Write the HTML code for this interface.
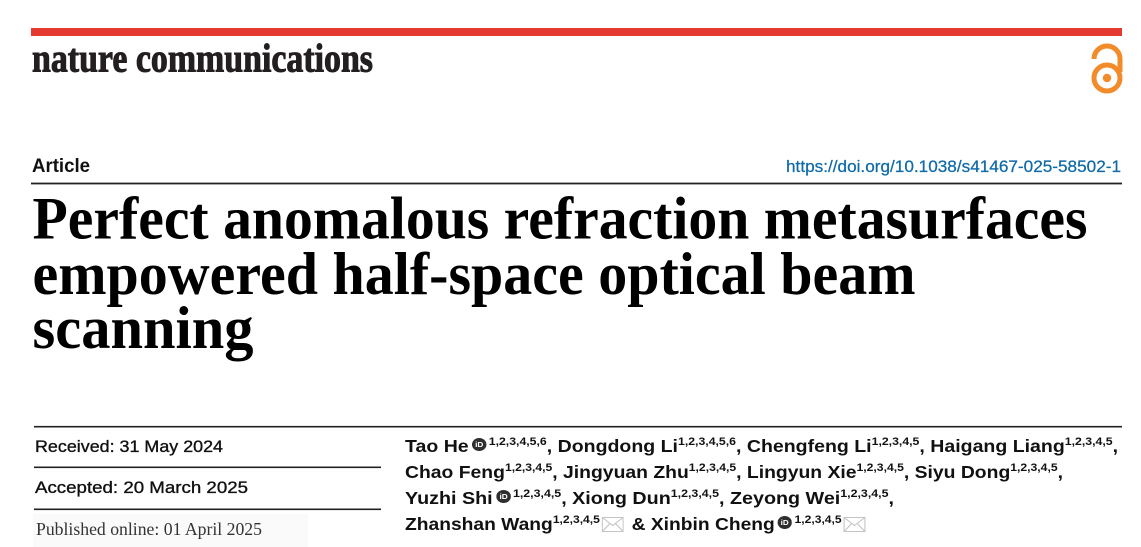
<!DOCTYPE html>
<html>
<head>
<meta charset="utf-8">
<style>
  html,body{margin:0;padding:0;background:#fff;}
  body{width:1141px;height:547px;overflow:hidden;position:relative;}
  svg.page{position:absolute;left:0;top:0;}
  .au{position:absolute;left:405px;white-space:nowrap;font-family:"Liberation Sans",Arial,sans-serif;font-weight:bold;font-size:17.5px;line-height:20px;color:#111;}
  .au .in{display:inline-block;transform-origin:0 50%;}
  .au sup{font-size:11px;position:relative;top:-7px;vertical-align:baseline;line-height:0;font-weight:bold;}
  .orc{vertical-align:1px;margin:0 2px 0 3px;}
  .env{vertical-align:-2px;margin:0 2px 0 2px;}
</style>
</head>
<body>
<svg class="page" width="1141" height="547" viewBox="0 0 1141 547" xmlns="http://www.w3.org/2000/svg">
  <!-- red bar -->
  <rect x="31" y="28" width="1091" height="8" fill="#e43a2f"/>
  <!-- logo -->
  <text x="32" y="71.5" font-family="Liberation Serif, serif" font-weight="bold" font-size="40" fill="#231f20" stroke="#231f20" stroke-width="1" textLength="341" lengthAdjust="spacingAndGlyphs">nature communications</text>
  <!-- open access icon -->
  <g fill="none" stroke="#f28b2a" stroke-width="5">
    <path d="M1094 59 A13 13 0 0 1 1120 59 L1120 72"/>
    <circle cx="1107" cy="78" r="13"/>
  </g>
  <circle cx="1107" cy="78" r="4.2" fill="#f28b2a"/>
  <!-- Article / DOI -->
  <text x="32" y="172" font-family="Liberation Sans, sans-serif" font-weight="bold" font-size="19" fill="#111" textLength="58" lengthAdjust="spacingAndGlyphs">Article</text>
  <text x="786" y="172" font-family="Liberation Sans, sans-serif" font-size="17" fill="#0e6aa8" stroke="#0e6aa8" stroke-width="0.25" textLength="335" lengthAdjust="spacingAndGlyphs">https://doi.org/10.1038/s41467-025-58502-1</text>
  <rect x="31" y="182.6" width="1091" height="1.8" fill="#222"/>
  <!-- title -->
  <g font-family="Liberation Serif, serif" font-weight="bold" font-size="60" fill="#000">
    <text x="32.5" y="238.5" textLength="1055" lengthAdjust="spacingAndGlyphs">Perfect anomalous refraction metasurfaces</text>
    <text x="32.5" y="294" textLength="883" lengthAdjust="spacingAndGlyphs">empowered half-space optical beam</text>
    <text x="32.5" y="348" textLength="221" lengthAdjust="spacingAndGlyphs">scanning</text>
  </g>
  <!-- separator lines -->
  <rect x="34" y="425.9" width="1088" height="1.6" fill="#222"/>
  <rect x="34" y="466.5" width="347" height="1.6" fill="#222"/>
  <rect x="34" y="508.5" width="347" height="1.6" fill="#222"/>
  <!-- dates -->
  <g font-family="Liberation Sans, sans-serif" font-size="17" fill="#111" stroke="#111" stroke-width="0.35">
    <text x="35" y="452" textLength="188" lengthAdjust="spacingAndGlyphs">Received: 31 May 2024</text>
    <text x="35" y="493" textLength="213" lengthAdjust="spacingAndGlyphs">Accepted: 20 March 2025</text>
  </g>
  <rect x="33" y="514" width="275" height="33" fill="#fafafa"/>
  <text x="36" y="535" font-family="Liberation Serif, serif" font-size="17.6" fill="#333" textLength="226" lengthAdjust="spacingAndGlyphs">Published online: 01 April 2025</text>
</svg>

<div class="au" id="l1" style="top:436.4px;"><span class="in">Tao He<svg class="orc" width="13" height="13" viewBox="0 0 12 12"><circle cx="6" cy="6" r="6" fill="#2e2e2e"/><text x="6" y="8.5" font-family="Liberation Sans, sans-serif" font-weight="bold" font-size="6.8" fill="#fff" text-anchor="middle">iD</text></svg><sup>1,2,3,4,5,6</sup>, Dongdong Li<sup>1,2,3,4,5,6</sup>, Chengfeng Li<sup>1,2,3,4,5</sup>, Haigang Liang<sup>1,2,3,4,5</sup>,</span></div>

<div class="au" id="l2" style="top:462.1px;"><span class="in">Chao Feng<sup>1,2,3,4,5</sup>, Jingyuan Zhu<sup>1,2,3,4,5</sup>, Lingyun Xie<sup>1,2,3,4,5</sup>, Siyu Dong<sup>1,2,3,4,5</sup>,</span></div>

<div class="au" id="l3" style="top:488px;"><span class="in">Yuzhi Shi<svg class="orc" width="13" height="13" viewBox="0 0 12 12"><circle cx="6" cy="6" r="6" fill="#2e2e2e"/><text x="6" y="8.5" font-family="Liberation Sans, sans-serif" font-weight="bold" font-size="6.8" fill="#fff" text-anchor="middle">iD</text></svg><sup>1,2,3,4,5</sup>, Xiong Dun<sup>1,2,3,4,5</sup>, Zeyong Wei<sup>1,2,3,4,5</sup>,</span></div>

<div class="au" id="l4" style="top:513.6px;"><span class="in">Zhanshan Wang<sup>1,2,3,4,5</sup><svg class="env" width="20" height="15" viewBox="0 0 20 15"><g fill="none" stroke="#c4c4c4" stroke-width="1"><rect x="0.5" y="0.5" width="19" height="14"/><path d="M0.5 0.5 L10 8.5 L19.5 0.5"/><path d="M0.5 14.5 L7.5 6.5"/><path d="M19.5 14.5 L12.5 6.5"/></g></svg> &amp; Xinbin Cheng<svg class="orc" width="13" height="13" viewBox="0 0 12 12"><circle cx="6" cy="6" r="6" fill="#2e2e2e"/><text x="6" y="8.5" font-family="Liberation Sans, sans-serif" font-weight="bold" font-size="6.8" fill="#fff" text-anchor="middle">iD</text></svg><sup>1,2,3,4,5</sup><svg class="env" width="20" height="15" viewBox="0 0 20 15"><g fill="none" stroke="#c4c4c4" stroke-width="1"><rect x="0.5" y="0.5" width="19" height="14"/><path d="M0.5 0.5 L10 8.5 L19.5 0.5"/><path d="M0.5 14.5 L7.5 6.5"/><path d="M19.5 14.5 L12.5 6.5"/></g></svg></span></div>

<script>
(function(){
  var targets={l1:713,l2:658,l3:489,l4:463};
  for(var id in targets){
    var el=document.getElementById(id);
    if(!el) continue;
    var inner=el.querySelector('.in');
    var w=inner.getBoundingClientRect().width;
    if(w>0){
      var s=targets[id]/w;
      inner.style.transform='scaleX('+s.toFixed(4)+')';
    }
  }
})();
</script>
</body>
</html>
